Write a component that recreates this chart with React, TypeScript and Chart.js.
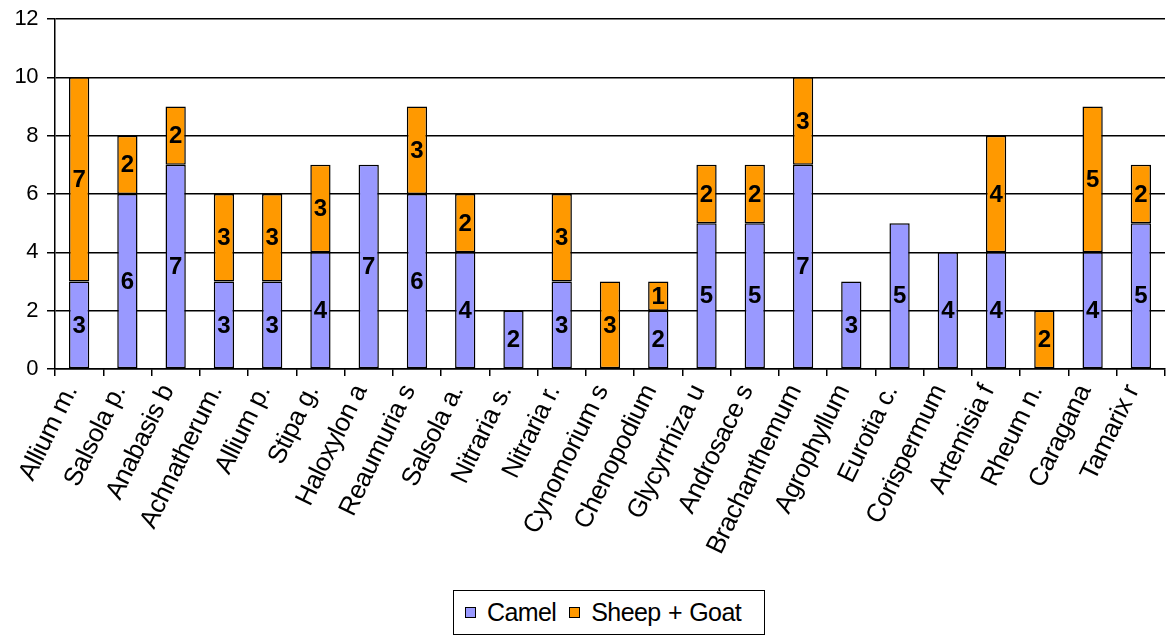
import React, { useEffect, useRef } from "react";
import { Chart, registerables } from "chart.js";

Chart.register(...registerables);

const categories = [
  "Allium m.", "Salsola p.", "Anabasis b", "Achnatherum.", "Allium p.", "Stipa g.",
  "Haloxylon a", "Reaumuria s", "Salsola a.", "Nitraria s.", "Nitraria r.",
  "Cynomorium s", "Chenopodium", "Glycyrrhiza u", "Androsace s", "Brachanthemum",
  "Agrophyllum", "Eurotia c.", "Corispermum", "Artemisia f", "Rheum n.",
  "Caragana", "Tamarix r",
];
const camel = [3, 6, 7, 3, 3, 4, 7, 6, 4, 2, 3, 0, 2, 5, 5, 7, 3, 5, 4, 4, 0, 4, 5];
const sheepGoat = [7, 2, 2, 3, 3, 3, 0, 3, 2, 0, 3, 3, 1, 2, 2, 3, 0, 0, 0, 4, 2, 5, 2];
const yTicks = [0, 2, 4, 6, 8, 10, 12];

const CAMEL_COLOR = "#9999FF";
const SHEEP_COLOR = "#FF9900";
const FONT = "Liberation Sans, Arial, sans-serif";

const valueLabels = {
  id: "valueLabels",
  afterDatasetsDraw(chart: any) {
    const ctx = chart.ctx;
    ctx.save();
    ctx.letterSpacing = "0px";
    ctx.font = `bold 24px ${FONT}`;
    ctx.fillStyle = "#000";
    ctx.textAlign = "center";
    ctx.textBaseline = "middle";
    chart.data.datasets.forEach((ds: any, di: number) => {
      const meta = chart.getDatasetMeta(di);
      meta.data.forEach((bar: any, i: number) => {
        const v = ds.data[i];
        if (!v) return;
        const { x, y, base } = bar.getProps(["x", "y", "base"], true);
        ctx.fillText(String(v), x, (y + base) / 2 + 1);
      });
    });
    ctx.restore();
  },
};

const tightText = {
  id: "tightText",
  beforeDraw(chart: any) {
    chart.ctx.letterSpacing = "-0.5px";
  },
  afterDraw(chart: any) {
    chart.ctx.letterSpacing = "0px";
  },
};

export default function App() {
  const ref = useRef<HTMLCanvasElement>(null);
  useEffect(() => {
    document.body.style.margin = "0";
    const chart = new Chart(ref.current!, {
      type: "bar",
      data: {
        labels: categories,
        datasets: [
          {
            label: "Camel",
            data: camel,
            backgroundColor: CAMEL_COLOR,
            borderColor: "#000",
            borderWidth: 1.5,
            borderSkipped: false,
            categoryPercentage: 1,
            barPercentage: 0.42,
          },
          {
            label: "Sheep + Goat",
            data: sheepGoat,
            backgroundColor: SHEEP_COLOR,
            borderColor: "#000",
            borderWidth: 1.5,
            borderSkipped: false,
            categoryPercentage: 1,
            barPercentage: 0.42,
          },
        ],
      },
      options: {
        animation: false,
        responsive: false,
        maintainAspectRatio: false,
        layout: { padding: { top: 19, right: 5, left: 0, bottom: 0 } },
        plugins: { legend: { display: false }, tooltip: { enabled: false } },
        scales: {
          x: {
            stacked: true,
            grid: {
              display: true,
              drawOnChartArea: false,
              drawTicks: true,
              tickLength: 7,
              color: "#000",
              lineWidth: 1.5,
              offset: true,
            },
            border: { display: true, color: "#000", width: 1.5 },
            ticks: {
              autoSkip: false,
              maxRotation: 64,
              minRotation: 64,
              color: "#000",
              font: { family: FONT, size: 26 },
              padding: 4,
              labelOffset: -8,
            },
            afterFit(scale: any) {
              scale.height = 266;
              scale.paddingLeft = 0;
              scale.paddingRight = 0;
            },
          },
          y: {
            stacked: true,
            min: 0,
            max: 12,
            afterBuildTicks(scale: any) {
              scale.ticks = yTicks.map((v) => ({ value: v }));
            },
            grid: { color: "#000", tickLength: 8, lineWidth: 1.5 },
            border: { display: true, color: "#000", width: 1.5 },
            ticks: {
              color: "#000",
              font: { family: FONT, size: 22 },
              padding: 9,
            },
            afterFit(scale: any) {
              scale.width = 55;
              scale.paddingTop = 0;
              scale.paddingBottom = 0;
            },
          },
        },
      },
      plugins: [tightText, valueLabels],
    });
    return () => chart.destroy();
  }, []);

  const marker = (color: string) => (
    <span
      style={{
        width: 11,
        height: 11,
        background: color,
        border: "1px solid #000",
        display: "inline-block",
        boxSizing: "border-box",
        flex: "none",
      }}
    />
  );

  return (
    <div style={{ position: "relative", width: 1170, height: 635 }}>
      <canvas ref={ref} width={1170} height={635} style={{ display: "block" }} />
      <div
        style={{
          position: "absolute",
          left: 453,
          top: 590,
          width: 312,
          height: 45,
          boxSizing: "border-box",
          border: "1.5px solid #000",
          display: "flex",
          alignItems: "center",
          justifyContent: "flex-start",
          paddingLeft: 11,
          fontFamily: FONT,
          fontSize: 25,
          letterSpacing: "-0.6px",
          wordSpacing: "1px",
          color: "#000",
          background: "#fff",
          whiteSpace: "nowrap",
        }}
      >
        {marker(CAMEL_COLOR)}
        <span style={{ marginLeft: 11, marginRight: 13 }}>Camel</span>
        {marker(SHEEP_COLOR)}
        <span style={{ marginLeft: 11 }}>Sheep + Goat</span>
      </div>
    </div>
  );
}
